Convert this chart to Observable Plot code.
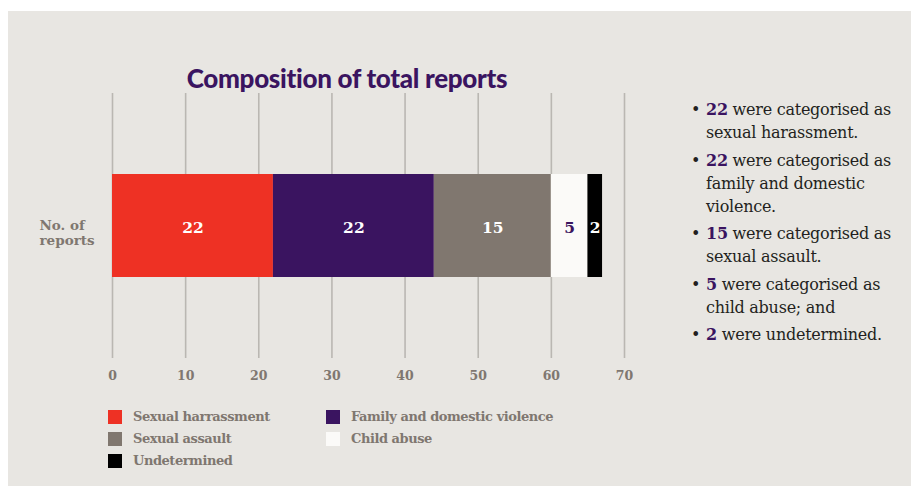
<!DOCTYPE html>
<html>
<head>
<meta charset="utf-8">
<script src="https://cdn.jsdelivr.net/npm/d3@7"></script>
<script src="https://cdn.jsdelivr.net/npm/@observablehq/plot@0.6"></script>
<style>
  html, body { margin: 0; padding: 0; background: #ffffff; width: 911px; height: 486px; overflow: hidden; }
  #panel { position: absolute; left: 8px; top: 11px; width: 903px; height: 475px; background: #e8e6e2; }
  #title { position: absolute; left: 0; width: 694px; top: 62px; text-align: center;
           font-family: Lato, sans-serif; font-weight: 900; font-size: 26px; line-height: 32px; color: #3a1460; letter-spacing: -0.3px; }
  #chart { position: absolute; left: 0; top: 90px; }
  #legend { position: absolute; left: 108px; top: 409px; width: 470px;
            font-family: "DejaVu Serif", serif; font-weight: bold; font-size: 13px; color: #7f7770; letter-spacing: -0.45px; }
  .lg { position: absolute; display: flex; align-items: center; white-space: nowrap; }
  .sw { width: 14px; height: 14px; margin-right: 11px; }
  #bullets { position: absolute; left: 688px; top: 98px; width: 223px; margin: 0; padding: 0; list-style: none;
             font-family: "DejaVu Serif", serif; font-size: 16px; color: #231f20; line-height: 23px; letter-spacing: -0.25px; }
  #bullets li { position: relative; padding-left: 18px; margin-bottom: 4.5px; white-space: nowrap; }
  #bullets li::before { content: "•"; position: absolute; left: 3px; top: 0; }
  #bullets b { color: #3a1460; }
</style>
</head>
<body>
<div id="panel"></div>
<div id="title">Composition of total reports</div>
<div id="chart"></div>
<div id="legend"></div>
<ul id="bullets"></ul>
<script>
// ---- data ----
const categories = ["Sexual harrassment", "Family and domestic violence", "Sexual assault", "Child abuse", "Undetermined"];
const labelValues = [22, 22, 15, 5, 2];          // numbers printed on the bars and in the bullets
const barLengths = [22, 22, 16, 5, 2];           // segment lengths as drawn in the reference (total reaches 67)
const rowLabel = "No. of\nreports";
const xTicks = [0, 10, 20, 30, 40, 50, 60, 70];
const bulletLines = [
  ["were categorised as", "sexual harassment."],
  ["were categorised as", "family and domestic", "violence."],
  ["were categorised as", "sexual assault."],
  ["were categorised as", "child abuse; and"],
  ["were undetermined."]
];

// ---- styles ----
const barColors = ["#ee3124", "#3a1460", "#80776f", "#fbfaf8", "#000000"];
const labelColors = ["#ffffff", "#ffffff", "#ffffff", "#3a1460", "#ffffff"];

const data = categories.map((c, i) => ({category: c, length: barLengths[i], label: labelValues[i], row: rowLabel, labelColor: labelColors[i]}));

const chart = Plot.plot({
  width: 660,
  height: 310,
  marginLeft: 112,
  marginRight: 36,
  marginTop: 3,
  marginBottom: 42,
  style: {background: "transparent", fontFamily: "'DejaVu Serif', serif", overflow: "visible"},
  x: {domain: [0, 70], ticks: xTicks, label: null},
  y: {domain: [rowLabel], padding: 0.44, label: null},
  color: {domain: categories, range: barColors},
  marks: [
    Plot.gridX(xTicks, {stroke: "#bab7b2", strokeOpacity: 1, strokeWidth: 1.6}),
    Plot.axisX({ticks: xTicks, tickSize: 0, tickPadding: 13, fontSize: 12.5, fontWeight: "bold", fill: "#7f7770", label: null}),
    Plot.axisY({tickSize: 0, textAnchor: "start", dx: -64, dy: 7, fontSize: 13.5, fontWeight: "bold", fill: "#7f7770", label: null, lineHeight: 1.1}),
    Plot.barX(data, Plot.stackX({x: "length", y: "row", fill: "category", order: null})),
    Plot.text(data, Plot.stackX({x: "length", y: "row", text: d => String(d.label), fill: "labelColor", order: null,
      dy: 2, fontSize: 15.5, fontWeight: "bold", fontFamily: "'DejaVu Serif', serif"}))
  ]
});
document.getElementById("chart").appendChild(chart);

// legend
const legend = document.getElementById("legend");
const legendPos = [[0, 0], [218, 0], [0, 22], [218, 22], [0, 44]];
categories.forEach((c, i) => {
  const el = document.createElement("div");
  el.className = "lg";
  el.style.left = legendPos[i][0] + "px";
  el.style.top = legendPos[i][1] + "px";
  el.innerHTML = `<span class="sw" style="background:${barColors[i]}"></span><span>${c}</span>`;
  legend.appendChild(el);
});

// bullets
const ul = document.getElementById("bullets");
labelValues.forEach((v, i) => {
  const li = document.createElement("li");
  li.innerHTML = `<b>${v}</b> ` + bulletLines[i].join("<br>");
  ul.appendChild(li);
});
</script>
</body>
</html>
